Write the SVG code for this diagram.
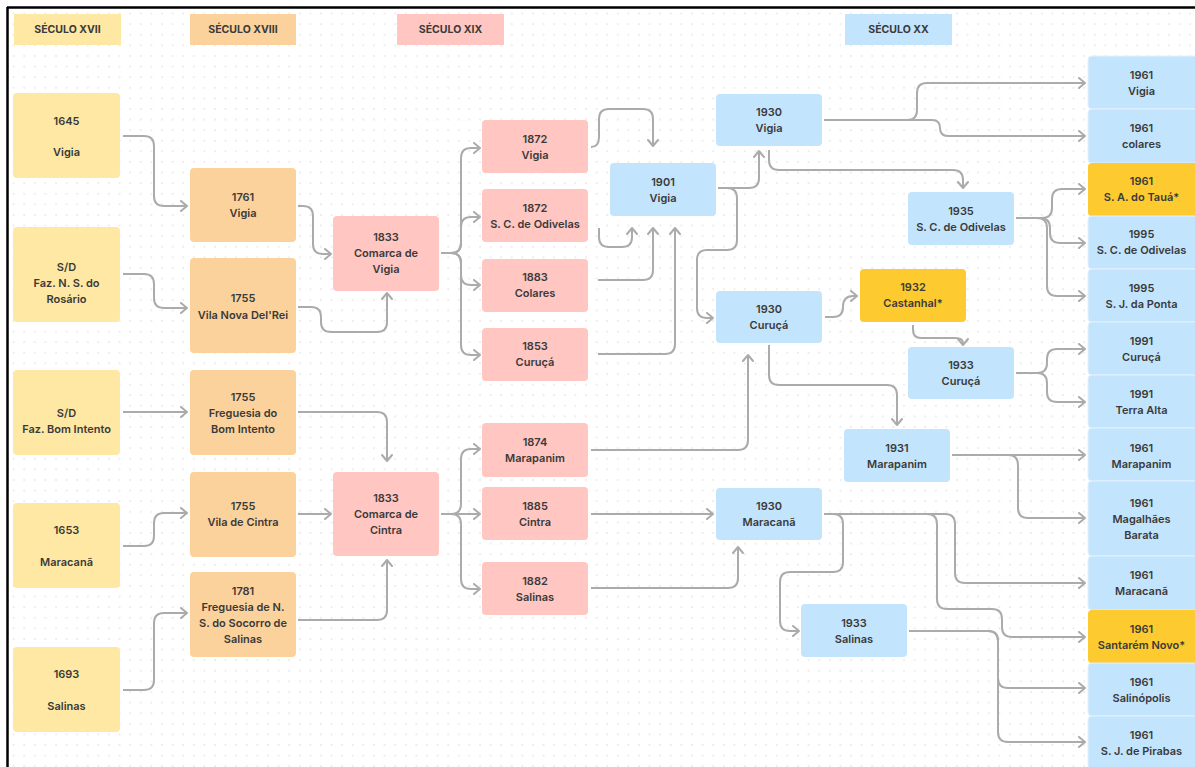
<svg xmlns="http://www.w3.org/2000/svg" width="1195" height="767" viewBox="0 0 1195 767">
<defs>
<pattern id="dots" width="10.6" height="10.6" patternUnits="userSpaceOnUse" x="2" y="2">
<circle cx="1" cy="1" r="0.7" fill="#cfcfcf"/>
</pattern>
<marker id="arr" viewBox="0 0 12 12" refX="10" refY="6" markerWidth="12" markerHeight="12" markerUnits="userSpaceOnUse" orient="auto">
<path d="M4,1 L10,6 L4,11" fill="none" stroke="#ababab" stroke-width="2" stroke-linecap="round" stroke-linejoin="round"/>
</marker>
<style>
.y{fill:#fee8a3}
.o{fill:#fcd29c}
.p{fill:#ffc6c2}
.b{fill:#c3e4fd}
.g{fill:#fdcb2f}
.t{font-family:Inter,"Liberation Sans",sans-serif;font-weight:600;font-size:11px;fill:#3a3a3a;text-anchor:middle}
.h{font-family:Inter,"Liberation Sans",sans-serif;font-weight:700;font-size:10.5px;fill:#3a3a3a;text-anchor:middle}
.c path{fill:none;stroke:#ababab;stroke-width:2;stroke-linejoin:round}
.rc{stroke:#e3f1fe;stroke-width:1}
</style>
</defs>
<rect width="1195" height="767" fill="#ffffff"/>
<rect x="8" y="8" width="1187" height="759" fill="url(#dots)"/>
<line x1="7" y1="7.5" x2="1195" y2="7.5" stroke="#000" stroke-width="2.5"/>
<line x1="7.5" y1="7" x2="7.5" y2="767" stroke="#000" stroke-width="2.5"/>

<g id="headers">
<g id="h17"><rect class="y" x="14" y="14" width="107" height="31"/><text class="h" x="67.5" y="33">SÉCULO XVII</text></g>
<g id="h18"><rect class="o" x="190" y="14" width="106" height="31"/><text class="h" x="243" y="33">SÉCULO XVIII</text></g>
<g id="h19"><rect class="p" x="397" y="14" width="107" height="31"/><text class="h" x="450.5" y="33">SÉCULO XIX</text></g>
<g id="h20"><rect class="b" x="845" y="14" width="107" height="31"/><text class="h" x="898.5" y="33">SÉCULO XX</text></g>
</g>

<g id="connectors" class="c">
<path marker-end="url(#arr)" d="M123,136 H144 Q154,136 154,146 V196 Q154,206 164,206 H187"/>
<path marker-end="url(#arr)" d="M123,274 H144 Q154,274 154,284 V298 Q154,308 164,308 H187"/>
<path marker-end="url(#arr)" d="M123,412 H187"/>
<path marker-end="url(#arr)" d="M123,546 H144 Q154,546 154,536 V523 Q154,513 164,513 H187"/>
<path marker-end="url(#arr)" d="M123,690 H144 Q154,690 154,680 V623 Q154,613 164,613 H187"/>
<path marker-end="url(#arr)" d="M298,206 H303 Q313,206 313,216 V244 Q313,254 323,254 H331"/>
<path marker-end="url(#arr)" d="M298,307 H311 Q321,307 321,317 V322 Q321,332 331,332 H377 Q387,332 387,322 V293"/>
<path marker-end="url(#arr)" d="M298,412 H377 Q387,412 387,422 V461"/>
<path marker-end="url(#arr)" d="M298,514 H331"/>
<path marker-end="url(#arr)" d="M298,620 H377 Q387,620 387,610 V560"/>
<path marker-end="url(#arr)" d="M441,253 H451 Q461,253 461,243 V158 Q461,148 471,148 H480"/>
<path marker-end="url(#arr)" d="M451,253 Q461,253 461,243 V227 Q461,217 471,217 H480"/>
<path marker-end="url(#arr)" d="M451,253 Q461,253 461,263 V275 Q461,285 471,285 H480"/>
<path marker-end="url(#arr)" d="M451,253 Q461,253 461,263 V345 Q461,355 471,355 H480"/>
<path marker-end="url(#arr)" d="M441,514 H451 Q461,514 461,504 V459 Q461,449 471,449 H480"/>
<path marker-end="url(#arr)" d="M441,514 H480"/>
<path marker-end="url(#arr)" d="M451,514 Q461,514 461,524 V579 Q461,589 471,589 H480"/>
<path marker-end="url(#arr)" d="M591,147 Q599,147 599,137 V119 Q599,109 609,109 H643 Q653,109 653,119 V146"/>
<path marker-end="url(#arr)" d="M599,228 V237 Q599,247 609,247 H622 Q632,247 632,237 V228"/>
<path marker-end="url(#arr)" d="M598,280 H643 Q653,280 653,270 V228"/>
<path marker-end="url(#arr)" d="M598,354 H665 Q675,354 675,344 V228"/>
<path marker-end="url(#arr)" d="M591,450 H738 Q748,450 748,440 V355"/>
<path marker-end="url(#arr)" d="M591,514 H713"/>
<path marker-end="url(#arr)" d="M591,588 H728 Q738,588 738,578 V547"/>
<path marker-end="url(#arr)" d="M718,188 H749 Q759,188 759,178 V151"/>
<path marker-end="url(#arr)" d="M718,188 H727 Q737,188 737,198 V240 Q737,250 727,250 H707 Q697,250 697,260 V308 Q697,318 707,318 H713"/>
<path marker-end="url(#arr)" d="M824,120 H907 Q917,120 917,110 V93 Q917,83 927,83 H1085"/>
<path marker-end="url(#arr)" d="M900,120 H932 Q940,120 940,128 Q940,136 948,136 H1085"/>
<path marker-end="url(#arr)" d="M769,150 V160 Q769,170 779,170 H953 Q963,170 963,180 V188"/>
<path marker-end="url(#arr)" d="M825,317 H833 Q843,317 843,307 Q843,296 853,296 H857"/>
<path marker-end="url(#arr)" d="M913,325 V330 Q913,338 921,338 H955 Q963,338 963,343 V345"/>
<path marker-end="url(#arr)" d="M769,345 V375 Q769,385 779,385 H887 Q897,385 897,395 V425"/>
<path marker-end="url(#arr)" d="M1016,218 H1042 Q1052,218 1052,208 V199 Q1052,189 1062,189 H1085"/>
<path marker-end="url(#arr)" d="M1040,218 Q1050,218 1050,228 V233 Q1050,243 1060,243 H1085"/>
<path marker-end="url(#arr)" d="M1037,218 Q1047,218 1047,228 V286 Q1047,296 1057,296 H1085"/>
<path marker-end="url(#arr)" d="M1016,373 H1037 Q1047,373 1047,363 V359 Q1047,349 1057,349 H1085"/>
<path marker-end="url(#arr)" d="M1037,373 Q1047,373 1047,383 V392 Q1047,402 1057,402 H1085"/>
<path marker-end="url(#arr)" d="M952,455 H1085"/>
<path marker-end="url(#arr)" d="M1008,455 Q1018,455 1018,465 V508 Q1018,518 1028,518 H1085"/>
<path marker-end="url(#arr)" d="M824,514 H833 Q843,514 843,524 V562 Q843,572 833,572 H790 Q780,572 780,582 V621 Q780,631 790,631 H799"/>
<path marker-end="url(#arr)" d="M824,514 H945 Q955,514 955,524 V573 Q955,583 965,583 H1085"/>
<path marker-end="url(#arr)" d="M927,514 Q937,514 937,524 V599 Q937,609 947,609 H992 Q1002,609 1002,619 V627 Q1002,637 1012,637 H1085"/>
<path marker-end="url(#arr)" d="M909,631 H988 Q998,631 998,641 V678 Q998,688 1008,688 H1085"/>
<path marker-end="url(#arr)" d="M988,631 Q998,631 998,641 V732 Q998,742 1008,742 H1085"/>
</g>

<g id="n1645"><rect class="y" x="13" y="93" width="107" height="85" rx="4"/><text class="t" x="66.5" y="125">1645</text><text class="t" x="66.5" y="156">Vigia</text></g>
<g id="nRosario"><rect class="y" x="13" y="227" width="107" height="95" rx="4"/><text class="t" x="66.5" y="271">S/D</text><text class="t" x="66.5" y="287">Faz. N. S. do</text><text class="t" x="66.5" y="303">Rosário</text></g>
<g id="nBomIntentoSD"><rect class="y" x="13" y="370" width="107" height="85" rx="4"/><text class="t" x="66.5" y="417">S/D</text><text class="t" x="66.5" y="433">Faz. Bom Intento</text></g>
<g id="n1653"><rect class="y" x="13" y="503" width="107" height="85" rx="4"/><text class="t" x="66.5" y="534">1653</text><text class="t" x="66.5" y="566">Maracanã</text></g>
<g id="n1693"><rect class="y" x="13" y="647" width="107" height="85" rx="4"/><text class="t" x="66.5" y="678">1693</text><text class="t" x="66.5" y="710">Salinas</text></g>

<g id="n1761"><rect class="o" x="190" y="168" width="106" height="74" rx="4"/><text class="t" x="243" y="201">1761</text><text class="t" x="243" y="217">Vigia</text></g>
<g id="n1755a"><rect class="o" x="190" y="258" width="106" height="95" rx="4"/><text class="t" x="243" y="302">1755</text><text class="t" x="243" y="319">Vila Nova Del'Rei</text></g>
<g id="n1755b"><rect class="o" x="190" y="370" width="106" height="85" rx="4"/><text class="t" x="243" y="401">1755</text><text class="t" x="243" y="417">Freguesia do</text><text class="t" x="243" y="433">Bom Intento</text></g>
<g id="n1755c"><rect class="o" x="190" y="472" width="106" height="85" rx="4"/><text class="t" x="243" y="510">1755</text><text class="t" x="243" y="526">Vila de Cintra</text></g>
<g id="n1781"><rect class="o" x="190" y="572" width="106" height="85" rx="4"/><text class="t" x="243" y="595">1781</text><text class="t" x="243" y="611">Freguesia de N.</text><text class="t" x="243" y="627">S. do Socorro de</text><text class="t" x="243" y="643">Salinas</text></g>

<g id="n1833v"><rect class="p" x="333" y="216" width="106" height="75" rx="4"/><text class="t" x="386" y="241">1833</text><text class="t" x="386" y="257">Comarca de</text><text class="t" x="386" y="273">Vigia</text></g>
<g id="n1833c"><rect class="p" x="333" y="472" width="106" height="84" rx="4"/><text class="t" x="386" y="502">1833</text><text class="t" x="386" y="518">Comarca de</text><text class="t" x="386" y="534">Cintra</text></g>

<g id="n1872v"><rect class="p" x="482" y="120" width="106" height="53" rx="4"/><text class="t" x="535" y="143">1872</text><text class="t" x="535" y="159">Vigia</text></g>
<g id="n1872o"><rect class="p" x="482" y="189" width="106" height="53" rx="4"/><text class="t" x="535" y="212">1872</text><text class="t" x="535" y="228">S. C. de Odivelas</text></g>
<g id="n1883"><rect class="p" x="482" y="259" width="106" height="53" rx="4"/><text class="t" x="535" y="281">1883</text><text class="t" x="535" y="297">Colares</text></g>
<g id="n1853"><rect class="p" x="482" y="328" width="106" height="53" rx="4"/><text class="t" x="535" y="350">1853</text><text class="t" x="535" y="366">Curuçá</text></g>
<g id="n1874"><rect class="p" x="482" y="423" width="106" height="54" rx="4"/><text class="t" x="535" y="446">1874</text><text class="t" x="535" y="462">Marapanim</text></g>
<g id="n1885"><rect class="p" x="482" y="487" width="106" height="53" rx="4"/><text class="t" x="535" y="510">1885</text><text class="t" x="535" y="526">Cintra</text></g>
<g id="n1882"><rect class="p" x="482" y="562" width="106" height="53" rx="4"/><text class="t" x="535" y="585">1882</text><text class="t" x="535" y="601">Salinas</text></g>

<g id="n1901"><rect class="b" x="610" y="163" width="106" height="53" rx="4"/><text class="t" x="663" y="186">1901</text><text class="t" x="663" y="202">Vigia</text></g>
<g id="n1930v"><rect class="b" x="716" y="94" width="106" height="52" rx="4"/><text class="t" x="769" y="116">1930</text><text class="t" x="769" y="132">Vigia</text></g>
<g id="n1930c"><rect class="b" x="716" y="291" width="106" height="52" rx="4"/><text class="t" x="769" y="313">1930</text><text class="t" x="769" y="329">Curuçá</text></g>
<g id="n1930m"><rect class="b" x="716" y="488" width="106" height="52" rx="4"/><text class="t" x="769" y="510">1930</text><text class="t" x="769" y="526">Maracanã</text></g>
<g id="n1935"><rect class="b" x="908" y="192" width="106" height="53" rx="4"/><text class="t" x="961" y="215">1935</text><text class="t" x="961" y="231">S. C. de Odivelas</text></g>
<g id="n1932"><rect class="g" x="860" y="269" width="106" height="53" rx="4"/><text class="t" x="913" y="291">1932</text><text class="t" x="913" y="307">Castanhal*</text></g>
<g id="n1933c"><rect class="b" x="908" y="347" width="106" height="52" rx="4"/><text class="t" x="961" y="369">1933</text><text class="t" x="961" y="385">Curuçá</text></g>
<g id="n1931"><rect class="b" x="844" y="429" width="106" height="53" rx="4"/><text class="t" x="897" y="452">1931</text><text class="t" x="897" y="468">Marapanim</text></g>
<g id="n1933s"><rect class="b" x="801" y="604" width="106" height="53" rx="4"/><text class="t" x="854" y="627">1933</text><text class="t" x="854" y="643">Salinas</text></g>

<g id="r1"><rect class="b rc" x="1088" y="56" width="110" height="53" rx="4"/><text class="t" x="1141.5" y="79">1961</text><text class="t" x="1141.5" y="95">Vigia</text></g>
<g id="r2"><rect class="b rc" x="1088" y="109" width="110" height="54" rx="4"/><text class="t" x="1141.5" y="132">1961</text><text class="t" x="1141.5" y="148">colares</text></g>
<g id="r3"><rect class="g" x="1088" y="163" width="110" height="53" rx="4"/><text class="t" x="1141.5" y="185">1961</text><text class="t" x="1141.5" y="201">S. A. do Tauá*</text></g>
<g id="r4"><rect class="b rc" x="1088" y="216" width="110" height="53" rx="4"/><text class="t" x="1141.5" y="238">1995</text><text class="t" x="1141.5" y="254">S. C. de Odivelas</text></g>
<g id="r5"><rect class="b rc" x="1088" y="269" width="110" height="53" rx="4"/><text class="t" x="1141.5" y="292">1995</text><text class="t" x="1141.5" y="308">S. J. da Ponta</text></g>
<g id="r6"><rect class="b rc" x="1088" y="322" width="110" height="53" rx="4"/><text class="t" x="1141.5" y="345">1991</text><text class="t" x="1141.5" y="361">Curuçá</text></g>
<g id="r7"><rect class="b rc" x="1088" y="375" width="110" height="53" rx="4"/><text class="t" x="1141.5" y="398">1991</text><text class="t" x="1141.5" y="414">Terra Alta</text></g>
<g id="r8"><rect class="b rc" x="1088" y="428" width="110" height="53" rx="4"/><text class="t" x="1141.5" y="452">1961</text><text class="t" x="1141.5" y="468">Marapanim</text></g>
<g id="r9"><rect class="b rc" x="1088" y="481" width="110" height="75" rx="4"/><text class="t" x="1141.5" y="507">1961</text><text class="t" x="1141.5" y="523">Magalhães</text><text class="t" x="1141.5" y="539">Barata</text></g>
<g id="r10"><rect class="b rc" x="1088" y="556" width="110" height="54" rx="4"/><text class="t" x="1141.5" y="579">1961</text><text class="t" x="1141.5" y="595">Maracanã</text></g>
<g id="r11"><rect class="g" x="1088" y="610" width="110" height="53" rx="4"/><text class="t" x="1141.5" y="633">1961</text><text class="t" x="1141.5" y="649">Santarém Novo*</text></g>
<g id="r12"><rect class="b rc" x="1088" y="663" width="110" height="53" rx="4"/><text class="t" x="1141.5" y="686">1961</text><text class="t" x="1141.5" y="702">Salinópolis</text></g>
<g id="r13"><rect class="b rc" x="1088" y="716" width="110" height="54" rx="4"/><text class="t" x="1141.5" y="739">1961</text><text class="t" x="1141.5" y="755">S. J. de Pirabas</text></g>
</svg>
